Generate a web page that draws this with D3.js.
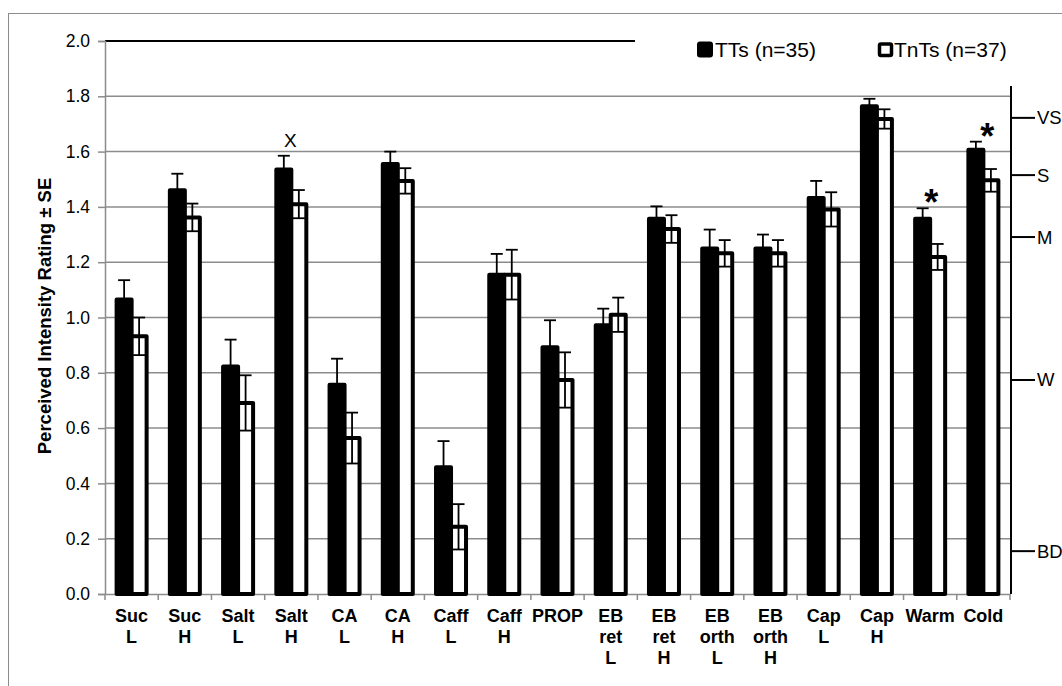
<!DOCTYPE html>
<html>
<head>
<meta charset="utf-8">
<script src="https://cdn.jsdelivr.net/npm/d3@7"></script>
<style>
  html, body { margin: 0; padding: 0; background: #fff; }
  svg { display: block; }
  text { font-family: "Liberation Sans", Arial, sans-serif; }
</style>
</head>
<body>
<svg id="chart" width="1062" height="686"></svg>
<script>
// ---------- data ----------
const categories = ["Suc L","Suc H","Salt L","Salt H","CA L","CA H","Caff L","Caff H","PROP",
  "EB ret L","EB ret H","EB orth L","EB orth H","Cap L","Cap H","Warm","Cold"];
const categoryLabels = [["Suc","L"],["Suc","H"],["Salt","L"],["Salt","H"],["CA","L"],["CA","H"],
  ["Caff","L"],["Caff","H"],["PROP"],["EB","ret","L"],["EB","ret","H"],["EB","orth","L"],
  ["EB","orth","H"],["Cap","L"],["Cap","H"],["Warm"],["Cold"]];
const seriesNames = ["TTs (n=35)", "TnTs (n=37)"];
const ttsMean  = [1.065,1.46,0.823,1.535,0.757,1.555,0.458,1.155,0.892,0.972,1.357,1.25,1.25,1.432,1.764,1.357,1.607];
const ttsSE    = [0.070,0.060,0.097,0.050,0.094,0.045,0.095,0.075,0.098,0.060,0.045,0.068,0.050,0.062,0.027,0.038,0.029];
const tntsMean = [0.932,1.362,0.691,1.41,0.564,1.494,0.243,1.155,0.774,1.01,1.32,1.232,1.232,1.391,1.718,1.219,1.496];
const tntsSE   = [0.068,0.050,0.100,0.051,0.092,0.046,0.082,0.090,0.100,0.062,0.050,0.048,0.048,0.062,0.035,0.047,0.041];
const leftTicks = [0,0.2,0.4,0.6,0.8,1.0,1.2,1.4,1.6,1.8,2.0];
const rightTickLabels = ["BD","W","M","S","VS"];
const rightTickValues = [0.155,0.774,1.291,1.515,1.722];
const annotations = [{cat:"Salt H", text:"X", kind:"x"}, {cat:"Warm", text:"*", kind:"star"}, {cat:"Cold", text:"*", kind:"star"}];

// ---------- layout ----------
const svg = d3.select("#chart");
const L = 105, R = 1010, T = 41, B = 594;
const x = d3.scaleBand().domain(categories).range([L, R]).padding(0);
const y = d3.scaleLinear().domain([0, 2]).range([B, T]);
const barW = 15;
const font = '"Liberation Sans", Arial, sans-serif';

// outer border
svg.append("rect").attr("x", 8.5).attr("y", 13.5).attr("width", 1100).attr("height", 700)
  .attr("fill", "none").attr("stroke", "#8c8c8c").attr("stroke-width", 1);

// gridlines
svg.append("g").selectAll("line").data(leftTicks.filter(v => v > 0 && v < 2)).join("line")
  .attr("x1", L).attr("x2", R).attr("y1", d => y(d)).attr("y2", d => y(d))
  .attr("stroke", "#8c8c8c").attr("stroke-width", 1.5);
// top line
svg.append("line").attr("x1", L).attr("x2", R).attr("y1", y(2)).attr("y2", y(2))
  .attr("stroke", "#000").attr("stroke-width", 2);

// left axis
const yAxis = d3.axisLeft(y).tickValues(leftTicks).tickFormat(d3.format(".1f")).tickSize(7).tickPadding(8);
const gy = svg.append("g").attr("transform", `translate(${L},0)`).call(yAxis);
gy.select(".domain").attr("stroke", "#8c8c8c").attr("stroke-width", 1.5);
gy.selectAll(".tick line").attr("stroke", "#8c8c8c").attr("stroke-width", 1.5);
gy.selectAll(".tick text").attr("font-family", font).attr("font-size", 17.5).attr("fill", "#000");

// bottom axis
const xAxis = d3.axisBottom(x).tickValues([]).tickSizeOuter(0);
const gx = svg.append("g").attr("transform", `translate(0,${B})`).call(xAxis);
gx.select(".domain").attr("stroke", "#8c8c8c").attr("stroke-width", 1.5);
gx.selectAll(".bnd").data(categories.concat(["_end"])).join("line")
  .attr("x1", (d, i) => L + i * x.step()).attr("x2", (d, i) => L + i * x.step())
  .attr("y1", 0).attr("y2", 6).attr("stroke", "#8c8c8c").attr("stroke-width", 1.5);

// category labels
const lab = svg.append("g");
categories.forEach((c, i) => {
  const t = lab.append("text").attr("x", x(c) + x.bandwidth() / 2).attr("y", 621.5)
    .attr("text-anchor", "middle").attr("font-family", font).attr("font-size", 18)
    .attr("font-weight", "bold").attr("fill", "#000");
  categoryLabels[i].forEach((ln, k) => {
    t.append("tspan").attr("x", x(c) + x.bandwidth() / 2).attr("dy", k === 0 ? 0 : 21.3).text(ln);
  });
});

// bars
const gBars = svg.append("g");
const cx = c => x(c) + x.bandwidth() / 2;
gBars.selectAll(".b1").data(categories).join("rect")
  .attr("x", d => cx(d) - barW).attr("width", barW)
  .attr("y", (d, i) => y(ttsMean[i])).attr("height", (d, i) => y(0) - y(ttsMean[i]))
  .attr("fill", "#000").attr("stroke", "#000").attr("stroke-width", 4).attr("stroke-linejoin", "round");
gBars.selectAll(".b2").data(categories).join("rect")
  .attr("x", d => cx(d)).attr("width", barW)
  .attr("y", (d, i) => y(tntsMean[i])).attr("height", (d, i) => y(0) - y(tntsMean[i]))
  .attr("fill", "#fff").attr("stroke", "#000").attr("stroke-width", 4).attr("stroke-linejoin", "round");

// error bars
function errBars(means, ses, offset) {
  const g = svg.append("g").attr("stroke", "#000").attr("stroke-width", 1.8);
  categories.forEach((c, i) => {
    const ex = cx(c) + offset;
    const hi = y(means[i] + ses[i]), lo = y(means[i] - ses[i]);
    g.append("line").attr("x1", ex).attr("x2", ex).attr("y1", hi).attr("y2", lo);
    g.append("line").attr("x1", ex - 6).attr("x2", ex + 6).attr("y1", hi).attr("y2", hi);
    g.append("line").attr("x1", ex - 6).attr("x2", ex + 6).attr("y1", lo).attr("y2", lo);
  });
}
errBars(ttsMean, ttsSE, -barW / 2);
errBars(tntsMean, tntsSE, barW / 2);

// annotations
annotations.forEach(a => {
  const i = categories.indexOf(a.cat);
  const top = y(Math.max(ttsMean[i] + ttsSE[i], tntsMean[i] + tntsSE[i]));
  if (a.kind === "x") {
    svg.append("text").attr("x", cx(a.cat) - 1).attr("y", top - 9).attr("text-anchor", "middle")
      .attr("font-family", font).attr("font-size", 19).attr("fill", "#000").text(a.text);
  } else {
    svg.append("text").attr("x", cx(a.cat) + (a.cat === "Cold" ? 4 : 1)).attr("y", top + 7)
      .attr("text-anchor", "middle").attr("font-family", font).attr("font-size", 36)
      .attr("font-weight", "bold").attr("fill", "#000").text(a.text);
  }
});

// right axis
const gr = svg.append("g");
gr.append("line").attr("x1", R + 1).attr("x2", R + 1).attr("y1", y(2)).attr("y2", y(0))
  .attr("stroke", "#000").attr("stroke-width", 2);
rightTickValues.forEach((v, i) => {
  gr.append("line").attr("x1", R).attr("x2", R + 25).attr("y1", y(v)).attr("y2", y(v))
    .attr("stroke", "#000").attr("stroke-width", 2);
  gr.append("text").attr("x", R + 27).attr("y", y(v) + 6.5).attr("font-family", font)
    .attr("font-size", 18.5).attr("fill", "#000").text(rightTickLabels[i]);
});

// legend
const lg = svg.append("g");
lg.append("rect").attr("x", 635).attr("y", 20).attr("width", 427).attr("height", 66).attr("fill", "#fff");
lg.append("rect").attr("x", 698).attr("y", 42.5).attr("width", 14).attr("height", 14).attr("rx", 2)
  .attr("fill", "#000").attr("stroke", "#000").attr("stroke-width", 2);
lg.append("text").attr("x", 715).attr("y", 57).attr("font-family", font).attr("font-size", 21)
  .attr("fill", "#000").text(seriesNames[0]);
lg.append("rect").attr("x", 879.5).attr("y", 44).attr("width", 12).attr("height", 11.5).attr("rx", 1.5)
  .attr("fill", "#fff").attr("stroke", "#000").attr("stroke-width", 3.5);
lg.append("text").attr("x", 894).attr("y", 57).attr("font-family", font).attr("font-size", 21)
  .attr("fill", "#000").text(seriesNames[1]);

// y title
svg.append("text").attr("transform", `translate(51,316) rotate(-90)`).attr("text-anchor", "middle")
  .attr("font-family", font).attr("font-size", 18.5).attr("font-weight", "bold").attr("fill", "#000")
  .text("Perceived Intensity Rating ± SE");
</script>
</body>
</html>
